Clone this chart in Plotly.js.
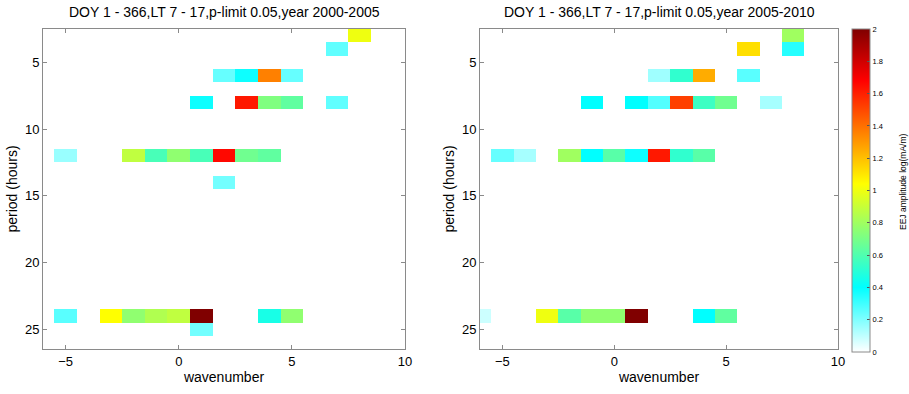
<!DOCTYPE html>
<html>
<head>
<meta charset="utf-8">
<script src="https://cdn.plot.ly/plotly-3.0.1.min.js"></script>
<style>html,body{margin:0;padding:0;background:#fff;}#chart{width:909px;height:394px;}</style>
</head>
<body>
<div id="chart"></div>
<script>
// ---- Data: panel 1 (2000-2005) ----
const leftTitle = "DOY 1 - 366,LT 7 - 17,p-limit 0.05,year 2000-2005";
const leftPeriod = [3, 4, 6, 6, 6, 6, 8, 8, 8, 8, 8, 12, 12, 12, 12, 12, 12, 12, 12, 14, 24, 24, 24, 24, 24, 24, 24, 24, 25];
const leftWave   = [8, 7, 2, 3, 4, 5, 1, 3, 4, 5, 7, -5, -2, -1, 0, 1, 2, 3, 4, 2, -5, -3, -2, -1, 0, 1, 4, 5, 1];
const leftAmp    = [1.0, 0.25, 0.24, 0.38, 1.36, 0.24, 0.38, 1.62, 0.72, 0.64, 0.25, 0.16, 0.88, 0.58, 0.76, 0.58, 1.66, 0.68, 0.64, 0.22, 0.26, 1.04, 0.76, 0.84, 0.88, 2.0, 0.46, 0.76, 0.22];

// ---- Data: panel 2 (2005-2010) ----
const rightTitle = "DOY 1 - 366,LT 7 - 17,p-limit 0.05,year 2005-2010";
const rightPeriod = [3, 4, 4, 6, 6, 6, 6, 8, 8, 8, 8, 8, 8, 8, 12, 12, 12, 12, 12, 12, 12, 12, 12, 24, 24, 24, 24, 24, 24, 24, 24];
const rightWave   = [8, 6, 8, 2, 3, 4, 6, -1, 1, 2, 3, 4, 5, 7, -5, -4, -2, -1, 0, 1, 2, 3, 4, -6, -3, -2, -1, 0, 1, 4, 5];
const rightAmp    = [0.8, 1.12, 0.34, 0.15, 0.52, 1.25, 0.26, 0.4, 0.4, 0.27, 1.52, 0.55, 0.68, 0.14, 0.24, 0.14, 0.8, 0.4, 0.62, 0.38, 1.62, 0.52, 0.62, 0.08, 1.0, 0.62, 0.76, 0.76, 2.0, 0.4, 0.64];

// grid of wavenumbers and periods
const waveGrid = [-6, -5, -4, -3, -2, -1, 0, 1, 2, 3, 4, 5, 6, 7, 8, 9];
const periodGrid = [3, 4, 5, 6, 7, 8, 9, 10, 11, 12, 13, 14, 15, 16, 17, 18, 19, 20, 21, 22, 23, 24, 25];

const xTicks = [-5, 0, 5, 10];
const yTicks = [5, 10, 15, 20, 25];
const cbTicks = [0, 0.2, 0.4, 0.6, 0.8, 1, 1.2, 1.4, 1.6, 1.8, 2];
const cbTitle = "EEJ amplitude log(mA/m)";

function buildGrid(per, wav, amp) {
  const z = periodGrid.map(() => waveGrid.map(() => null));
  for (let i = 0; i < amp.length; i++) {
    const r = periodGrid.indexOf(per[i]);
    const c = waveGrid.indexOf(wav[i]);
    if (r >= 0 && c >= 0) z[r][c] = amp[i];
  }
  return z;
}

const colorscale = [
  [0, '#ffffff'],
  [0.2, '#00ffff'],
  [0.36, '#80ff80'],
  [0.52, '#ffff00'],
  [0.68, '#ff8000'],
  [0.84, '#ff0000'],
  [1, '#800000']
];

const traces = [
  {type: 'heatmap', x: waveGrid, y: periodGrid, z: buildGrid(leftPeriod, leftWave, leftAmp),
   xaxis: 'x', yaxis: 'y', coloraxis: 'coloraxis', hoverongaps: false},
  {type: 'heatmap', x: waveGrid, y: periodGrid, z: buildGrid(rightPeriod, rightWave, rightAmp),
   xaxis: 'x2', yaxis: 'y2', coloraxis: 'coloraxis', hoverongaps: false}
];

const W = 909, H = 394;
const axisLine = '#8a8a8a';
const tickFont = {family: 'Liberation Sans, Arial, sans-serif', size: 13, color: '#000'};
const titleFont = {family: 'Liberation Sans, Arial, sans-serif', size: 14, color: '#000'};

function xax(domain, anchor) {
  return {domain: domain, anchor: anchor, range: [-6, 10], autorange: false,
    tickmode: 'array', tickvals: xTicks, ticks: 'inside', ticklen: 4, tickcolor: axisLine,
    showline: true, linecolor: axisLine, linewidth: 1, mirror: 'ticks', showgrid: false, zeroline: false,
    tickfont: tickFont, title: {text: 'wavenumber', font: titleFont, standoff: 4}};
}
function yax(domain, anchor) {
  return {domain: domain, anchor: anchor, range: [26.5, 2.5], autorange: false,
    tickmode: 'array', tickvals: yTicks, ticks: 'inside', ticklen: 4, tickcolor: axisLine,
    showline: true, linecolor: axisLine, linewidth: 1, mirror: 'ticks', showgrid: false, zeroline: false,
    tickfont: tickFont, title: {text: 'period (hours)', font: titleFont, standoff: 4}};
}

const yDom = [(H - 349) / H, (H - 29) / H];
const layout = {
  width: W, height: H,
  margin: {l: 0, r: 0, t: 0, b: 0},
  paper_bgcolor: '#fff', plot_bgcolor: '#fff',
  showlegend: false,
  xaxis: xax([43 / W, 405 / W], 'y'),
  yaxis: yax(yDom, 'x'),
  xaxis2: xax([480 / W, 838 / W], 'y2'),
  yaxis2: yax(yDom, 'x2'),
  coloraxis: {
    cmin: 0, cmax: 2, colorscale: colorscale,
    colorbar: {
      x: 852 / W, xanchor: 'left', xpad: 0, ypad: 0,
      y: 1 - 190.5 / H, yanchor: 'middle',
      len: 323 / H, lenmode: 'fraction',
      thickness: 18, thicknessmode: 'pixels',
      outlinecolor: axisLine, outlinewidth: 1,
      tickmode: 'array', tickvals: cbTicks,
      ticks: 'inside', ticklen: 3, tickcolor: '#555',
      tickfont: {family: 'Liberation Sans, Arial, sans-serif', size: 7.5, color: '#000'}
    }
  },
  annotations: [
    {text: leftTitle, xref: 'paper', yref: 'paper', x: 224 / W, y: 1 - 12 / H,
     xanchor: 'center', yanchor: 'middle', showarrow: false, font: titleFont},
    {text: rightTitle, xref: 'paper', yref: 'paper', x: 659 / W, y: 1 - 12 / H,
     xanchor: 'center', yanchor: 'middle', showarrow: false, font: titleFont},
    {text: cbTitle, xref: 'paper', yref: 'paper', x: 903 / W, y: 1 - 182 / H,
     xanchor: 'center', yanchor: 'middle', textangle: -90, showarrow: false,
     font: {family: 'Liberation Sans, Arial, sans-serif', size: 8.5, color: '#000'}}
  ]
};

Plotly.newPlot('chart', traces, layout, {displayModeBar: false, staticPlot: true});
</script>
</body>
</html>
